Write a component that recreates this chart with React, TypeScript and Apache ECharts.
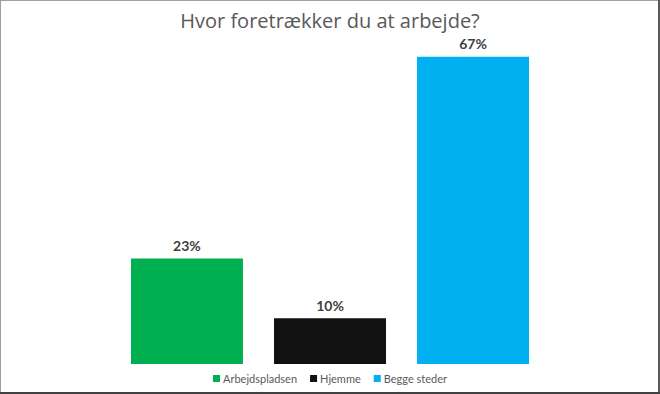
import React, { useEffect, useRef } from "react";
import * as echarts from "echarts";

const title = "Hvor foretrækker du at arbejde?";
const categories = [""];
const seriesNames = ["Arbejdspladsen", "Hjemme", "Begge steder"];
const seriesValues = [23, 10, 67];
const seriesColors = ["#00B050", "#111111", "#00B0F0"];

export default function App() {
  const ref = useRef<HTMLDivElement>(null);
  useEffect(() => {
    if (!ref.current) return;
    const chart = echarts.init(ref.current, undefined, { renderer: "svg" });
    const font = "'Open Sans', 'Noto Sans', sans-serif";
    const font2 = "Lato, 'Open Sans', sans-serif";
    chart.setOption({
      animation: false,
      backgroundColor: "#ffffff",
      title: {
        text: title,
        left: "center",
        top: 5,
        textStyle: { fontFamily: font, fontSize: 20, fontWeight: "normal", color: "#595959" },
      },
      legend: {
        bottom: 5,
        left: "center",
        itemWidth: 7,
        itemHeight: 7,
        itemGap: 13,
        icon: "rect",
        textStyle: { fontFamily: font2, fontSize: 11, color: "#595959", padding: [0, 0, 0, -2] },
        data: seriesNames,
      },
      grid: { left: 100, right: 100, top: 43, bottom: 30 },
      xAxis: {
        type: "category",
        data: categories,
        axisLine: { show: false },
        axisTick: { show: false },
        axisLabel: { show: false },
      },
      yAxis: {
        type: "value",
        min: 0,
        max: 70,
        show: false,
        splitLine: { show: false },
      },
      series: seriesNames.map((name, i) => ({
        name,
        type: "bar",
        data: [seriesValues[i]],
        barWidth: 112,
        barGap: "27.7%",
        itemStyle: { color: seriesColors[i] },
        label: {
          show: true,
          position: "top",
          distance: 6,
          formatter: "{c}%",
          fontFamily: font2,
          fontSize: 14,
          fontWeight: "bold",
          color: "#404040",
        },
      })),
      graphic: [
        { type: "line", shape: { x1: 0, y1: 0.5, x2: 660, y2: 0.5 }, style: { stroke: "#a0a0a0", lineWidth: 1 } },
        { type: "line", shape: { x1: 0.5, y1: 0, x2: 0.5, y2: 394 }, style: { stroke: "#a0a0a0", lineWidth: 1 } },
        { type: "line", shape: { x1: 659, y1: 0, x2: 659, y2: 394 }, style: { stroke: "#595959", lineWidth: 2 } },
        { type: "line", shape: { x1: 0, y1: 393, x2: 660, y2: 393 }, style: { stroke: "#404040", lineWidth: 2 } },
      ],
    });
    return () => chart.dispose();
  }, []);
  return <div ref={ref} style={{ position: "fixed", left: 0, top: 0, width: 660, height: 394 }} />;
}
